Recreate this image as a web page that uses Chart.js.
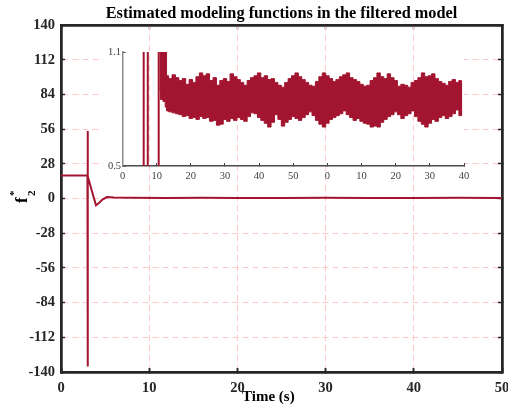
<!DOCTYPE html>
<html>
<head>
<meta charset="utf-8">
<script src="https://cdn.jsdelivr.net/npm/chart.js@4"></script>
<style>
    html, body { margin: 0; padding: 0; background: #fff; }
    #wrap { position: relative; width: 508px; height: 407px; }
    #main-chart { position: absolute; left: 0; top: 0; }
    #inset-chart { position: absolute; left: 95px; top: 42px; }
</style>
</head>
<body>
<div id="wrap">
    <canvas id="main-chart" width="508" height="407"></canvas>
    <canvas id="inset-chart" width="380" height="144"></canvas>
</div>
<script>
// main plot: f2* against time
const mainTime = [0, 1, 2, 3.0, 3.02, 3.03, 3.05, 3.5, 3.97, 4.3, 4.7, 5.2, 6, 8, 12, 16, 20, 25, 30, 35, 40, 45, 50];
const mainF2 = [18.6, 18.6, 18.6, 18.6, 54.5, -135.5, 18, 6, -5.4, -3.6, -0.8, 1.2, 0.8, 0.6, 0.5, 0.6, 0.5, 0.5, 0.6, 0.5, 0.5, 0.6, 0.5];

// inset: the three early spikes that leave the 0.5 - 1.1 window
const insetSpikeTime = [6.2, 6.2, 7.4, 7.4, 10.6, 10.6];
const insetSpikeValue = [0.3, 1.3, 1.3, 0.3, 0.3, 1.3];

// inset: envelope of the oscillating band
const insetBandTime = [10.8, 11.5, 12.2, 12.8,
    13, 14, 15, 16, 17, 18, 19, 20, 21, 22, 23, 24, 25, 26, 27, 28, 29, 30, 31, 32,
    33, 34, 35, 36, 37, 38, 39, 40, 41, 42, 43, 44, 45, 46, 47, 48, 49, 50, 51, 52,
    53, 54, 55, 56, 57, 58, 59, 60, 61, 62, 63, 64, 65, 66, 67, 68, 69, 70, 71, 72,
    73, 74, 75, 76, 77, 78, 79, 80, 81, 82, 83, 84, 85, 86, 87, 88, 89, 90, 91, 92,
    93, 94, 95, 96, 97, 98, 99, 99.5];
const insetBandUpper = [1.2, 1.2, 1.2, 1.15,
    0.975, 0.96, 0.98, 0.965, 0.95, 0.96, 0.93, 0.955, 0.94, 0.97,
    0.99, 0.975, 0.985, 0.95, 0.965, 0.925, 0.95, 0.96, 0.945, 0.985,
    0.97, 0.955, 0.94, 0.925, 0.95, 0.965, 0.975, 0.99, 0.965, 0.975,
    0.955, 0.96, 0.94, 0.925, 0.915, 0.94, 0.96, 0.975, 0.99, 0.97,
    0.955, 0.94, 0.925, 0.92, 0.945, 0.97, 0.99, 0.975, 0.96, 0.945,
    0.955, 0.97, 0.98, 0.99, 0.965, 0.955, 0.945, 0.93, 0.92, 0.925,
    0.95, 0.965, 0.99, 0.97, 0.96, 0.985, 0.965, 0.95, 0.92, 0.93,
    0.925, 0.915, 0.94, 0.95, 0.965, 0.99, 0.97, 0.975, 0.985, 0.96,
    0.945, 0.935, 0.925, 0.945, 0.955, 0.94, 0.95, 0.93];
const insetBandLower = [0.9, 0.85, 0.84, 0.81,
    0.79, 0.785, 0.78, 0.775, 0.77, 0.76, 0.765, 0.75, 0.755, 0.745,
    0.76, 0.75, 0.755, 0.735, 0.74, 0.715, 0.72, 0.745, 0.735, 0.75,
    0.74, 0.755, 0.745, 0.735, 0.76, 0.78, 0.775, 0.755, 0.74, 0.725,
    0.705, 0.73, 0.77, 0.745, 0.71, 0.73, 0.745, 0.76, 0.75, 0.74,
    0.755, 0.77, 0.785, 0.765, 0.74, 0.72, 0.705, 0.725, 0.745, 0.755,
    0.765, 0.775, 0.79, 0.77, 0.755, 0.74, 0.75, 0.735, 0.725, 0.72,
    0.705, 0.71, 0.705, 0.73, 0.745, 0.76, 0.77, 0.785, 0.77, 0.75,
    0.765, 0.775, 0.79, 0.76, 0.735, 0.72, 0.705, 0.725, 0.745, 0.735,
    0.755, 0.765, 0.75, 0.76, 0.775, 0.795, 0.765, 0.77];

// inset tick positions and their (wrapped) labels
const insetXTicks = [0, 10, 20, 30, 40, 50, 60, 70, 80, 90, 100];
const insetXLabels = ['0', '10', '20', '30', '40', '50', '0', '10', '20', '30', '40'];
const insetYTicks = [0.5, 1.1];

const SERIF = '"Liberation Serif", "Times New Roman", serif';
const LINE_COLOR = '#A2142F';
const AXIS_COLOR = '#262626';
const GRID_COLOR = '#ffc9c9';

function toPoints(xs, ys) {
    return xs.map((x, i) => ({ x: x, y: ys[i] }));
}

// hides the main horizontal grid behind the inset, keeps the vertical one
const insetMaskPlugin = {
    id: 'insetMask',
    beforeDatasetsDraw(chart) {
        const ctx = chart.ctx;
        const s = chart.scales;
        ctx.save();
        ctx.fillStyle = '#fff';
        ctx.fillRect(103, 40, 361, 145);
        ctx.restore();
        s.x.drawGrid(chart.chartArea);
        // grid at x=0 / x=50 went over the frame, put it back
        s.y.drawBorder();
        s.y2.drawBorder();
        s.x.drawBorder();
        s.x2.drawBorder();
    },
};

// y label f*_2 with stacked super/subscript
const yLabelPlugin = {
    id: 'yLabel',
    afterDraw(chart) {
        const ctx = chart.ctx;
        ctx.save();
        ctx.translate(27, 203);
        ctx.rotate(-Math.PI / 2);
        ctx.fillStyle = '#000';
        ctx.textBaseline = 'alphabetic';
        ctx.font = 'bold 17px ' + SERIF;
        ctx.fillText('f', 0, 0);
        ctx.font = 'bold 11px ' + SERIF;
        ctx.fillText('*', 7, -10);
        ctx.fillText('2', 7, 8);
        ctx.restore();
    },
};

function zeroPadding(scale) {
    scale.paddingLeft = 0;
    scale.paddingRight = 0;
    scale.paddingTop = 0;
    scale.paddingBottom = 0;
}

function renderMainChart() {
    const ctx = document.getElementById('main-chart').getContext('2d');
    const tickFont = { family: SERIF, size: 14.5, weight: 'bold' };

    new Chart(ctx, {
        type: 'line',
        data: {
            datasets: [{
                data: toPoints(mainTime, mainF2),
                borderColor: LINE_COLOR,
                borderWidth: 2,
                pointRadius: 0,
                tension: 0,
                fill: false,
            }],
        },
        options: {
            responsive: false,
            animation: false,
            layout: { padding: { left: 25, right: 6, top: 0, bottom: 0 } },
            plugins: {
                legend: { display: false },
                tooltip: { enabled: false },
                title: {
                    display: true,
                    fullSize: false,
                    text: 'Estimated modeling functions in the filtered model',
                    color: '#000',
                    font: { family: SERIF, size: 16.3, weight: 'bold' },
                    padding: { top: 4, bottom: 1.5 },
                },
            },
            scales: {
                x: {
                    type: 'linear',
                    position: 'bottom',
                    min: 0,
                    max: 50,
                    ticks: { stepSize: 10, font: tickFont, color: AXIS_COLOR, padding: 12, maxRotation: 0 },
                    grid: { color: GRID_COLOR, lineWidth: 1, tickColor: AXIS_COLOR, tickLength: -4, tickWidth: 1.5 },
                    border: { color: AXIS_COLOR, width: 2.5, dash: [6, 4] },
                    title: {
                        display: true,
                        text: 'Time (s)\u00a0\u00a0\u00a0\u00a0\u00a0\u00a0\u00a0',
                        color: '#000',
                        font: { family: SERIF, size: 15, weight: 'bold' },
                        padding: { top: 0, bottom: 1 },
                    },
                    afterFit: scale => { scale.height = 35; zeroPadding(scale); },
                },
                x2: {
                    type: 'linear',
                    position: 'top',
                    min: 0,
                    max: 50,
                    ticks: { stepSize: 10, display: false },
                    grid: { drawOnChartArea: false, tickColor: AXIS_COLOR, tickLength: -4, tickWidth: 1.5 },
                    border: { color: AXIS_COLOR, width: 2.5 },
                    afterFit: scale => { scale.height = 0; zeroPadding(scale); },
                },
                y: {
                    position: 'left',
                    min: -140,
                    max: 140,
                    ticks: { stepSize: 28, font: tickFont, color: AXIS_COLOR, padding: 10 },
                    grid: { color: GRID_COLOR, lineWidth: 1, tickColor: AXIS_COLOR, tickLength: -4, tickWidth: 1.5 },
                    border: { color: AXIS_COLOR, width: 2.5, dash: [6, 4] },
                    afterFit: scale => { scale.width = 36; zeroPadding(scale); },
                },
                y2: {
                    position: 'right',
                    min: -140,
                    max: 140,
                    ticks: { stepSize: 28, display: false },
                    grid: { drawOnChartArea: false, tickColor: AXIS_COLOR, tickLength: -4, tickWidth: 1.5 },
                    border: { color: AXIS_COLOR, width: 2.5 },
                    afterFit: scale => { scale.width = 0; zeroPadding(scale); },
                },
            },
        },
        plugins: [insetMaskPlugin, yLabelPlugin],
    });
}

function renderInsetChart() {
    const ctx = document.getElementById('inset-chart').getContext('2d');
    const tickFont = { family: SERIF, size: 10.5 };

    new Chart(ctx, {
        type: 'line',
        data: {
            datasets: [
                {
                    data: toPoints(insetBandTime, insetBandLower),
                    borderColor: LINE_COLOR,
                    borderWidth: 1,
                    pointRadius: 0,
                    stepped: 'middle',
                    fill: false,
                    clip: 0,
                },
                {
                    data: toPoints(insetBandTime, insetBandUpper),
                    borderColor: LINE_COLOR,
                    backgroundColor: LINE_COLOR,
                    borderWidth: 1,
                    pointRadius: 0,
                    stepped: 'middle',
                    fill: '-1',
                    clip: 0,
                },
                {
                    data: toPoints(insetSpikeTime, insetSpikeValue),
                    borderColor: LINE_COLOR,
                    borderWidth: 2,
                    pointRadius: 0,
                    tension: 0,
                    fill: false,
                    clip: 0,
                },
            ],
        },
        options: {
            responsive: false,
            animation: false,
            layout: { padding: { left: 0, right: 11, top: 10, bottom: 0 } },
            plugins: {
                legend: { display: false },
                tooltip: { enabled: false },
            },
            scales: {
                x: {
                    type: 'linear',
                    min: 0,
                    max: 100,
                    afterBuildTicks: scale => { scale.ticks = insetXTicks.map(v => ({ value: v })); },
                    ticks: {
                        autoSkip: false,
                        maxRotation: 0,
                        font: tickFont,
                        color: '#404040',
                        padding: 6.5,
                        callback: (value, index) => insetXLabels[index],
                    },
                    grid: { drawOnChartArea: false, tickColor: '#404040', tickLength: -3, tickWidth: 1 },
                    border: { color: '#4a4a4a', width: 1.5 },
                    afterFit: scale => { scale.height = 20; zeroPadding(scale); },
                },
                y: {
                    min: 0.5,
                    max: 1.1,
                    afterBuildTicks: scale => { scale.ticks = insetYTicks.map(v => ({ value: v })); },
                    ticks: { font: tickFont, color: '#404040', padding: 4.5 },
                    grid: { drawOnChartArea: false, tickColor: '#404040', tickLength: -3, tickWidth: 1 },
                    border: { color: '#8a8a8a', width: 1.5 },
                    afterFit: scale => { scale.width = 27.5; zeroPadding(scale); },
                },
            },
        },
    });
}

(function () {
    renderMainChart();
    renderInsetChart();
})();
</script>
</body>
</html>
